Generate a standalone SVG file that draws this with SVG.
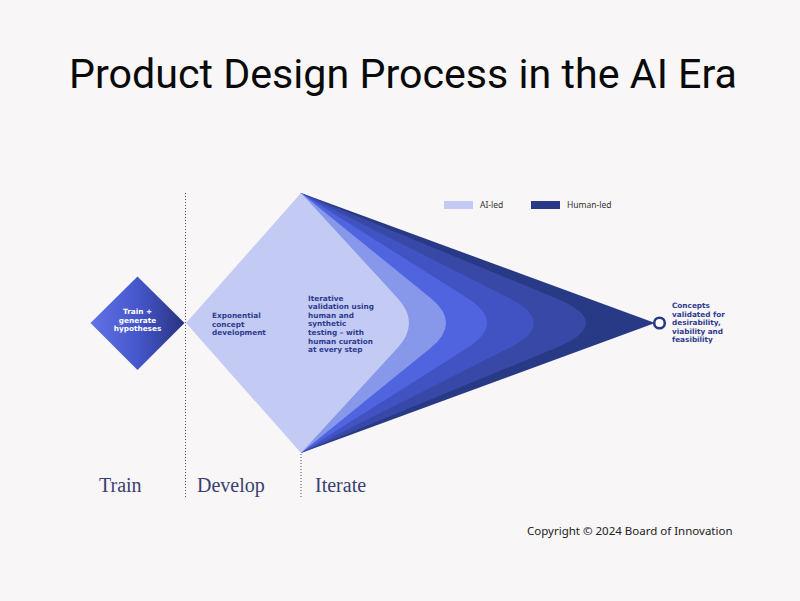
<svg xmlns="http://www.w3.org/2000/svg" width="800" height="601" viewBox="0 0 800 601">
<defs>
<linearGradient id="gTrain" x1="0" y1="0" x2="1" y2="0">
<stop offset="0" stop-color="#6171e6"/>
<stop offset="0.5" stop-color="#4657cc"/>
<stop offset="1" stop-color="#28337f"/>
</linearGradient>
<style>
.title{font-family:Roboto,"Liberation Sans",sans-serif;font-size:41.2px;fill:#0a0a0a}
.lbl{font-family:"DejaVu Sans","Noto Sans",sans-serif;font-weight:700;font-size:7.3px;fill:#2f3b8f}
.wh{fill:#ffffff;text-anchor:middle}
.leg{font-family:"Noto Sans","Liberation Sans",sans-serif;font-size:8.5px;fill:#333}
.phase{font-family:"Liberation Serif",serif;font-size:20px;fill:#3a4070}
.copy{font-family:"Noto Sans","Liberation Sans",sans-serif;font-size:11.5px;fill:#222}
.dot{stroke:#4a5070;stroke-width:1;stroke-dasharray:1 2;fill:none}
</style>
</defs>
<rect width="800" height="601" fill="#f8f6f7"/>
<text class="title" x="403" y="88" text-anchor="middle">Product Design Process in the AI Era</text>

<g id="legend">
<rect x="444" y="201" width="29" height="8" fill="#c3cbf4"/>
<text class="leg" x="480" y="207.5">AI-led</text>
<rect x="531" y="201" width="29" height="8" fill="#283985"/>
<text class="leg" x="567" y="207.5">Human-led</text>
</g>

<g id="connectors">
<line class="dot" x1="185.5" y1="193" x2="185.5" y2="497"/>
<line class="dot" x1="301" y1="193" x2="301" y2="497"/>
</g>

<g id="develop">
<path d="M186,323 L301,193 L301,453 Z" fill="#c3cbf4"/>
<text class="lbl" x="212" y="318"><tspan x="212">Exponential</tspan><tspan x="212" dy="8.7">concept</tspan><tspan x="212" dy="8.7">development</tspan></text>
</g>

<g id="iterate">
<path d="M301,193 L655,323 L301,453 Z" fill="#283985"/>
<path d="M301,193 L555.7,298 Q616.3,323 555.7,348 L301,453 Z" fill="#3748a6"/>
<path d="M301,193 L509.1,298 Q558.7,323 509.1,348 L301,453 Z" fill="#4153c2"/>
<path d="M301,193 L467.2,298 Q506.8,323 467.2,348 L301,453 Z" fill="#5064e0"/>
<path d="M301,193 L430.6,298 Q461.4,323 430.6,348 L301,453 Z" fill="#8797e9"/>
<path d="M301,193 L397.5,298 Q420.5,323 397.5,348 L301,453 Z" fill="#c3cbf4"/>
<text class="lbl" x="308" y="300.5"><tspan x="308">Iterative</tspan><tspan x="308" dy="8.65">validation using</tspan><tspan x="308" dy="8.65">human and</tspan><tspan x="308" dy="8.65">synthetic</tspan><tspan x="308" dy="8.65">testing – with</tspan><tspan x="308" dy="8.65">human curation</tspan><tspan x="308" dy="8.65">at every step</tspan></text>
</g>

<g id="train">
<path d="M90.5,323 L137.5,276.5 L184.5,323 L137.5,370 Z" fill="url(#gTrain)"/>
<text class="lbl wh" x="137.5" y="314"><tspan x="137.5">Train +</tspan><tspan x="137.5" dy="8.7">generate</tspan><tspan x="137.5" dy="8.7">hypotheses</tspan></text>
</g>

<g id="outcome">
<circle cx="659.5" cy="323" r="5.3" fill="#ffffff" stroke="#283985" stroke-width="2.6"/>
<text class="lbl" x="672" y="308"><tspan x="672">Concepts</tspan><tspan x="672" dy="8.6">validated for</tspan><tspan x="672" dy="8.6">desirability,</tspan><tspan x="672" dy="8.6">viability and</tspan><tspan x="672" dy="8.6">feasibility</tspan></text>
</g>

<g id="phases">
<text class="phase" x="99" y="492">Train</text>
<text class="phase" x="197" y="492">Develop</text>
<text class="phase" x="315" y="492">Iterate</text>
</g>

<text class="copy" x="527" y="535">Copyright © 2024 Board of Innovation</text>
</svg>
